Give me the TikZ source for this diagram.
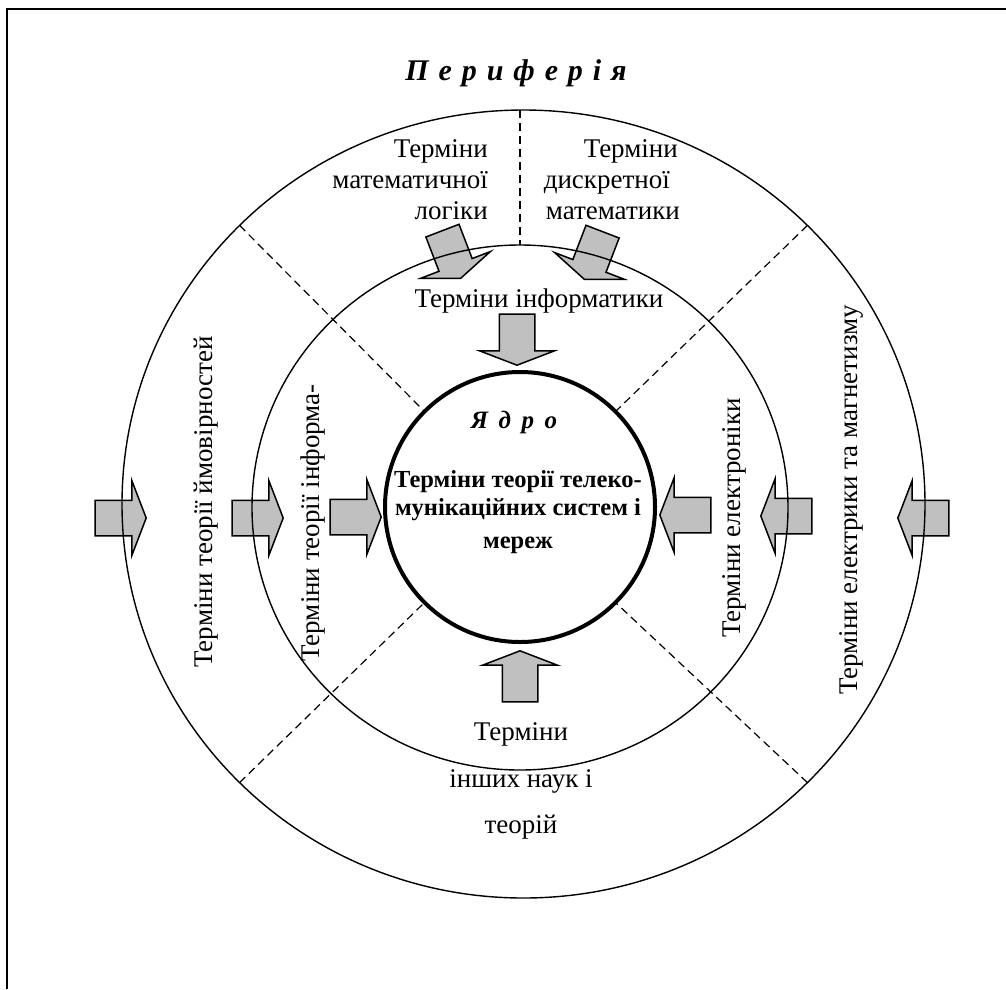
\documentclass[tikz,border=0pt]{standalone}
\usepackage{fontspec}
\setmainfont{Liberation Serif}
\usetikzlibrary{shapes.arrows,calc}
\definecolor{arrowgray}{HTML}{C0C0C0}
\tikzset{
  ring/.style={line width=1.4pt},
  corering/.style={line width=4pt},
  sepline/.style={line width=1.2pt, dash pattern=on 8pt off 5pt},
  barrow/.style={single arrow, draw=black, line width=1.5pt, fill=arrowgray,
    inner xsep=0pt, inner ysep=17pt, minimum height=51pt,
    single arrow head extend=19.5pt, single arrow tip angle=138, anchor=tip},
  lbl/.style={font=\fontsize{27}{31}\selectfont, inner sep=0pt},
  rlbl/.style={font=\fontsize{27}{31}\selectfont, inner sep=0pt, rotate=90, anchor=base},
  corelbl/.style={font=\fontsize{24.5}{28}\selectfont\bfseries, inner sep=0pt, anchor=base},
  title/.style={font=\fontsize{30}{32}\selectfont\bfseries\itshape, inner sep=0pt, anchor=base},
}
\begin{document}
\begin{tikzpicture}[x=1pt,y=-1pt]
\useasboundingbox (0,0) rectangle (1006,989);
% frame (only left and top edges visible)
\draw[line width=1.5pt] (7,989) -- (7,9) -- (1006,9);
% centres
\coordinate (co) at (523.5,504);
\coordinate (cm) at (520,507.5);
\coordinate (cc) at (520,507);
% block arrows
\node[barrow] (a1) at (147,518) {};
\node[barrow] (a2) at (284,518) {};
\node[barrow] (a3) at (382,517) {};
\node[barrow, rotate=180] (a4) at (659,515) {};
\node[barrow, rotate=180] (a5) at (760,516) {};
\node[barrow, rotate=180] (a6) at (897,518) {};
\node[barrow, rotate=-90] (a7) at (517,366) {};
\node[barrow, rotate=90] (a8) at (520,650) {};
\node[barrow, rotate=-69] (a9) at (461,279) {};
\node[barrow, rotate=-111] (a10) at (584,280) {};
% rings
\draw[ring] (co) ellipse [x radius=401.5pt, y radius=394pt];
\draw[ring] (cm) ellipse [x radius=268pt, y radius=262.5pt];
% separators
\draw[sepline] (520,110) -- (520,245);
\foreach \a in {45,135,225,315}{
  \draw[sepline] ($(co)+({401.5*cos(\a)},{-394*sin(\a)})$) -- ($(cc)+({135*cos(\a)},{-135*sin(\a)})$);
}
\draw[corering] (cc) circle [radius=135pt];
% title
\node[title] (per) at (516,80) {П\hspace{0.33em}е\hspace{0.33em}р\hspace{0.33em}и\hspace{0.33em}ф\hspace{0.33em}е\hspace{0.33em}р\hspace{0.33em}і\hspace{0.33em}я};
% upper labels
\node[lbl, anchor=base east] (lg1) at (488,157) {Терміни};
\node[lbl, anchor=base east] (lg2) at (488,188) {математичної};
\node[lbl, anchor=base east] (lg3) at (488,219) {логіки};
\node[lbl, anchor=base east] (dm1) at (678,157) {Терміни};
\node[lbl, anchor=base east] (dm2) at (670,188) {дискретної};
\node[lbl, anchor=base east] (dm3) at (680,219) {математики};
\node[lbl, anchor=base] (inf) at (539,307) {Терміни інформатики};
% core
\node[title, font=\fontsize{25}{28}\selectfont\bfseries\itshape] (yadro) at (514,428) {Я\hspace{0.42em}д\hspace{0.42em}р\hspace{0.42em}о};
\node[corelbl] (core1) at (518,487) {Терміни теорії телеко-};
\node[corelbl] (core2) at (518,515) {мунікаційних систем і};
\node[corelbl] (core3) at (518,548) {мереж};
% rotated labels
\node[rlbl] (prob) at (212,502) {Терміни теорії ймовірностей};
\node[rlbl] (info) at (319,523) {Терміни теорії інформа-};
\node[rlbl] (elec) at (740,518) {Терміни електроніки};
\node[rlbl] (magn) at (857,500) {Терміни електрики та магнетизму};
% bottom label
\node[lbl, anchor=base] (ot1) at (521,740) {Терміни};
\node[lbl, anchor=base] (ot2) at (521,787) {інших наук і};
\node[lbl, anchor=base] (ot3) at (521,833) {теорій};
\end{tikzpicture}
\end{document}
